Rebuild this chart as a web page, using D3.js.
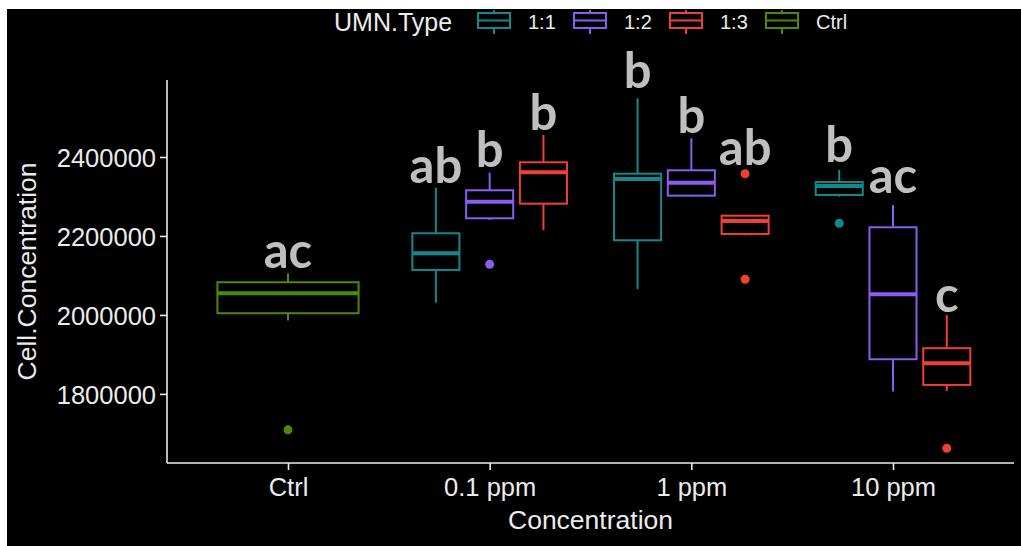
<!DOCTYPE html>
<html>
<head>
<meta charset="utf-8">
<script src="https://cdn.jsdelivr.net/npm/d3@7"></script>
<style>
  html, body { margin: 0; padding: 0; background: #fff; }
  svg { display: block; }
</style>
</head>
<body>
<svg id="chart" width="1021" height="546"></svg>
<script>
// ---- data ----
const categories = ["Ctrl", "0.1 ppm", "1 ppm", "10 ppm"];
const types = ["1:1", "1:2", "1:3", "Ctrl"];
const typeColors = ["#12898e", "#8a5cf0", "#ee4035", "#4b8b0b"];
const yTicks = [1800000, 2000000, 2200000, 2400000];

const groupConc = ["Ctrl", "0.1 ppm", "0.1 ppm", "0.1 ppm", "1 ppm", "1 ppm", "1 ppm", "10 ppm", "10 ppm", "10 ppm"];
const groupType = ["Ctrl", "1:1", "1:2", "1:3", "1:1", "1:2", "1:3", "1:1", "1:2", "1:3"];
const whiskerLow = [1985600, 2031100, 2240500, 2215200, 2065000, 2300000, 2201700, 2299500, 1805800, 1807600];
const q1 = [2004300, 2113900, 2244800, 2281800, 2189100, 2302100, 2205100, 2303800, 1887800, 1822800];
const median = [2054900, 2156200, 2286900, 2361300, 2344300, 2335000, 2238000, 2326600, 2052400, 1877700];
const q3 = [2082800, 2206800, 2315700, 2386600, 2357700, 2366300, 2251400, 2336700, 2222000, 1915700];
const whiskerHigh = [2105500, 2322300, 2360300, 2455700, 2548600, 2447300, 2251400, 2367100, 2278500, 2000000];
const outliers = [[1708900], [], [2128300], [], [], [], [2357700, 2090400], [2232100], [], [1662500]];
const letters = ["ac", "ab", "b", "b", "b", "b", "ab", "b", "ac", "c"];
const letterY = [2119000, 2334200, 2374700, 2468300, 2574700, 2460700, 2379700, 2387300, 2308900, 2007600];

// ---- layout ----
const svg = d3.select("#chart");
svg.append("rect").attr("x", 7).attr("y", 9).attr("width", 1014).attr("height", 537).attr("fill", "#000");

const panel = { left: 167, right: 1014, top: 80, bottom: 463 };
const x = d3.scalePoint().domain(categories).range([panel.left, panel.right]).padding(0.6);
const step = x.step();
const y = d3.scaleLinear().domain([1625000, 2595000]).range([panel.bottom, panel.top]);
const color = d3.scaleOrdinal().domain(types).range(typeColors);
const inner = d3.scaleBand().domain(["1:1", "1:2", "1:3"]).range([-0.4 * step, 0.4 * step]);

const groups = groupConc.map((c, i) => {
  const single = groupConc.filter(g => g === c).length === 1;
  const cx = single ? x(c) : x(c) + inner(groupType[i]) + inner.bandwidth() / 2;
  const w = single ? 0.7 * step : inner.bandwidth() * 0.875;
  return { c, t: groupType[i], cx, w, lo: whiskerLow[i], q1: q1[i], med: median[i], q3: q3[i], hi: whiskerHigh[i], out: outliers[i], letter: letters[i], ly: letterY[i] };
});

// ---- axes ----
const textColor = "#ececec";
const gx = svg.append("g").attr("transform", `translate(0,${panel.bottom})`)
  .call(d3.axisBottom(x).tickSize(7).tickPadding(6));
gx.select(".domain").attr("d", `M${panel.left},0H${panel.right}`);
const gy = svg.append("g").attr("transform", `translate(${panel.left},0)`)
  .call(d3.axisLeft(y).tickValues(yTicks).tickFormat(d3.format("d")).tickSize(7).tickPadding(4));
gy.select(".domain").attr("d", `M0,${panel.top}V${panel.bottom}`);
[gx, gy].forEach(g => {
  g.selectAll(".domain, .tick line").attr("stroke", textColor).attr("stroke-width", 1.6);
  g.selectAll(".tick text").attr("fill", textColor).attr("font-family", "Liberation Sans, Arial, sans-serif").attr("font-size", 25.5);
});
gx.selectAll(".tick text").attr("dy", "0.78em");
gy.selectAll(".tick text").attr("dy", "0.36em");

svg.append("text").attr("x", (panel.left + panel.right) / 2).attr("y", 529)
  .attr("text-anchor", "middle").attr("fill", textColor)
  .attr("font-family", "Liberation Sans, Arial, sans-serif").attr("font-size", 26.5).text("Concentration");
svg.append("text").attr("transform", `translate(36,${(panel.top + panel.bottom) / 2}) rotate(-90)`)
  .attr("text-anchor", "middle").attr("fill", textColor)
  .attr("font-family", "Liberation Sans, Arial, sans-serif").attr("font-size", 26.5).text("Cell.Concentration");

// ---- boxes ----
const gb = svg.append("g");
groups.forEach(g => {
  const col = color(g.t);
  const b = gb.append("g").attr("stroke", col).attr("fill", "none");
  b.append("line").attr("x1", g.cx).attr("x2", g.cx).attr("y1", y(g.hi)).attr("y2", y(g.q3)).attr("stroke-width", 2);
  b.append("line").attr("x1", g.cx).attr("x2", g.cx).attr("y1", y(g.q1)).attr("y2", y(g.lo)).attr("stroke-width", 2);
  b.append("rect").attr("x", g.cx - g.w / 2).attr("width", g.w)
    .attr("y", y(g.q3)).attr("height", y(g.q1) - y(g.q3)).attr("stroke-width", 2);
  b.append("line").attr("x1", g.cx - g.w / 2).attr("x2", g.cx + g.w / 2).attr("y1", y(g.med)).attr("y2", y(g.med)).attr("stroke-width", 4);
  g.out.forEach(o => {
    gb.append("circle").attr("cx", g.cx).attr("cy", y(o)).attr("r", 4.5).attr("fill", col);
  });
});

// ---- significance letters ----
svg.append("g").selectAll("text").data(groups).join("text")
  .attr("x", d => d.cx).attr("y", d => y(d.ly))
  .attr("text-anchor", "middle").attr("fill", "#bfbfbf")
  .attr("font-family", "Lato, 'Open Sans', sans-serif").attr("font-weight", "bold").attr("font-size", 49)
  .text(d => d.letter);

// ---- legend ----
const lg = svg.append("g");
lg.append("text").attr("x", 334).attr("y", 31).attr("fill", textColor)
  .attr("font-family", "Liberation Sans, Arial, sans-serif").attr("font-size", 25).text("UMN.Type");
types.forEach((t, i) => {
  const kx = 478 + i * 96;
  const k = lg.append("g").attr("stroke", color(t)).attr("fill", "none").attr("stroke-width", 2);
  k.append("line").attr("x1", kx + 16).attr("x2", kx + 16).attr("y1", 10).attr("y2", 34);
  k.append("rect").attr("x", kx).attr("y", 13).attr("width", 32).attr("height", 15).attr("fill", "#000");
  k.append("line").attr("x1", kx).attr("x2", kx + 32).attr("y1", 20.5).attr("y2", 20.5);
  lg.append("text").attr("x", kx + 50).attr("y", 29).attr("fill", textColor)
    .attr("font-family", "Liberation Sans, Arial, sans-serif").attr("font-size", 20).text(t);
});
</script>
</body>
</html>
